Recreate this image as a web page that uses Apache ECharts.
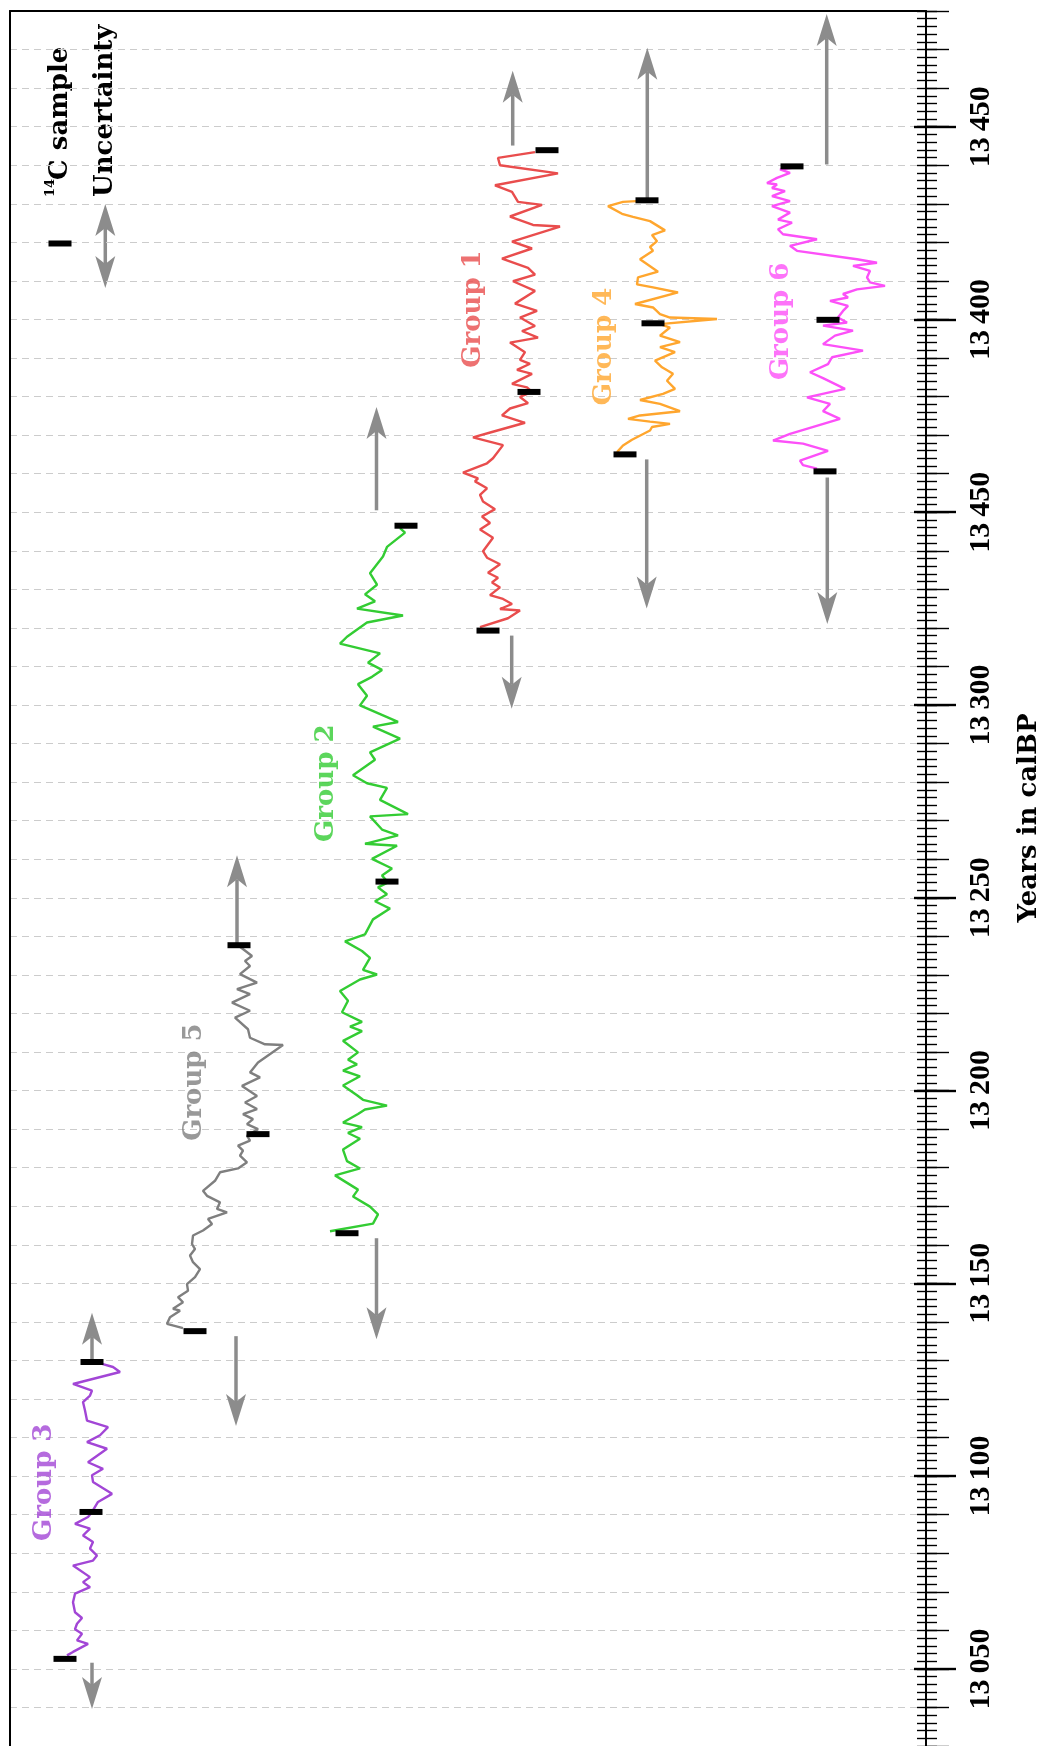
<!DOCTYPE html>
<html>
<head>
<meta charset="utf-8">
<script src="https://cdn.jsdelivr.net/npm/echarts@6/dist/echarts.min.js"></script>
<style>
  html, body { margin: 0; padding: 0; background: #fff; }
  #chart { width: 1045px; height: 1746px; }
</style>
</head>
<body>
<div id="chart"></div>
<script>
// Each group: [year calBP, horizontal offset of the trace]
const group1 = [
  [13320.2,480],[13322.5,508],[13324.5,520],[13324.9,500],[13326.2,512],[13327.5,503],[13328.5,490],
  [13330.5,500],[13331.8,492],[13333,498],[13334.3,488],[13336.5,500],[13338.2,487],[13339.9,483],
  [13343.4,493],[13345.5,480],[13347.2,490],[13348.9,482],[13350.8,495],[13352.8,483],[13354.5,480],
  [13356.2,487],[13358,475],[13358.8,478],[13360.3,463],[13362.7,487],[13364,493],[13367.4,503],
  [13369.4,473],[13370.8,492],[13373.2,525],[13375.1,502],[13376.9,510],[13378.3,528],[13379.9,520],
  [13381.2,532],[13382.4,527],[13383.3,512],[13385.9,532],[13386.9,517],[13388.5,530],[13389.5,520],
  [13391.5,525],[13394,510],[13395.3,538],[13397,522],[13398.3,535],[13400.5,520],[13402.2,537],
  [13404.1,515],[13407.4,535],[13409.9,513],[13411.6,535],[13413.4,528],[13415.8,502],[13418.4,532],
  [13420.2,512],[13424.1,560],[13424.5,533],[13426.7,510],[13429.7,542],[13430.5,518],[13433.1,512],
  [13434.8,495],[13437.9,558],[13440,500],[13441.9,498],[13443.4,535]
];
const group2 = [
  [13163.5,330],[13165.5,373],[13167.9,378],[13169.9,370],[13172.5,353],[13174.3,358],[13178,335],
  [13179.8,360],[13181.7,347],[13184.7,343],[13187.5,360],[13189,348],[13190.5,362],[13191.7,343],
  [13193.9,358],[13195.1,365],[13196.1,387],[13197.6,363],[13198.8,357],[13201.3,343],[13203.7,360],
  [13205.2,343],[13206.8,357],[13208,348],[13209.9,358],[13212.9,343],[13215.4,362],[13216.6,350],
  [13217.8,362],[13220.3,342],[13223.3,348],[13225.8,340],[13228.8,360],[13230.1,377],[13231.3,363],
  [13234.4,370],[13236.2,362],[13238.7,345],[13240.5,365],[13244.4,373],[13247.2,390],[13249.1,375],
  [13250.9,387],[13252.7,378],[13254,388],[13255.8,382],[13257.6,392],[13260.1,372],[13263.5,397],
  [13264,365],[13266.2,398],[13267.7,382],[13271.1,370],[13271.7,408],[13275.4,380],[13278.5,387],
  [13279.7,367],[13281.8,353],[13285.8,375],[13287.7,370],[13291.3,400],[13294.4,373],[13295.6,398],
  [13299.9,360],[13302.4,367],[13305.4,358],[13307.3,372],[13309.1,382],[13311,368],[13313.4,380],
  [13315.9,340],[13317.7,347],[13321.4,367],[13323.2,403],[13325,357],[13326.9,375],[13328.7,365],
  [13331.2,377],[13334.2,370],[13338.5,383],[13341,387],[13344.7,405],[13345.9,400]
];
const group3 = [
  [13053.5,67],[13054.4,73],[13056.5,88],[13057.4,77],[13059.1,82],[13060.3,75],[13061.7,77],
  [13063.2,82],[13064.7,75],[13067.3,73],[13069.5,75],[13071.2,90],[13072.5,83],[13073.8,90],
  [13076.8,73],[13078.1,93],[13079.4,97],[13081.2,90],[13082.9,93],[13084.6,83],[13086.4,90],
  [13087.6,75],[13089.4,88],[13090.7,92],[13093.3,98],[13095.4,112],[13098.5,93],[13100.2,92],
  [13101.9,103],[13103.6,88],[13107.1,107],[13108.8,87],[13110.6,100],[13112.7,108],[13114.4,87],
  [13117,85],[13119.2,83],[13120.9,90],[13122.2,92],[13123.9,73],[13127,120],[13128.3,113],[13129.1,102]
];
const group4 = [
  [13365.6,617],[13367.3,623],[13368.8,632],[13371.2,650],[13372.1,652],[13372.9,670],[13373.5,650],
  [13374.2,628],[13375.1,640],[13376.2,680],[13378.1,660],[13379.1,640],[13380.7,663],[13382,675],
  [13384.1,667],[13385.9,673],[13387.6,662],[13389.3,655],[13391.5,675],[13392.8,660],[13394.1,680],
  [13395.8,660],[13397.9,670],[13398.8,660],[13400.1,717],[13400.5,670],[13401.4,660],[13403.1,653],
  [13404,635],[13407,678],[13408.3,653],[13409.1,637],[13410.9,638],[13412.4,658],[13415.6,640],
  [13417.8,653],[13418.8,650],[13420.3,657],[13421.9,652],[13423.1,665],[13425.5,650],[13426.6,633],
  [13427.4,622],[13429.4,608],[13430.5,623],[13430.7,636]
];
const group5 = [
  [13138.4,183],[13139.5,167],[13141.2,170],[13142.9,180],[13143.4,173],[13145.1,183],[13146.4,178],
  [13148.1,188],[13149.8,187],[13151.6,195],[13153.7,200],[13155.5,193],[13157.2,190],[13158.9,195],
  [13160.2,192],[13162.4,193],[13163.7,203],[13165.4,212],[13166.7,208],[13168.4,227],[13169.3,217],
  [13171,220],[13172.7,207],[13174,203],[13176.6,215],[13178.8,220],[13179.8,238],[13181.4,247],
  [13183.1,240],[13184.4,243],[13185.7,238],[13187,250],[13188.3,247],[13190,258],[13191.3,247],
  [13192.6,253],[13193.9,243],[13195.2,257],[13196.9,245],[13198.6,257],[13201.2,242],[13203.4,260],
  [13204.7,250],[13207.3,258],[13211.8,283],[13212,265],[13213.7,250],[13215.9,248],[13218.9,235],
  [13220.7,250],[13222.8,232],[13225,250],[13226.3,237],[13228,257],[13230.2,240],[13232.3,250],
  [13233.6,245],[13234.9,252],[13237.3,240]
];
const group6 = [
  [13361.3,817],[13362.2,803],[13363.4,800],[13365.9,828],[13367.8,803],[13368.6,773],[13370.3,790],
  [13374.2,840],[13376.2,823],[13378.1,830],[13379.8,807],[13382,845],[13384.8,823],[13386.3,810],
  [13388.4,828],[13390.2,832],[13391.9,863],[13393.6,823],[13395.8,835],[13397.1,853],[13398.4,823],
  [13399.2,847],[13400.5,838],[13402.2,843],[13403.5,848],[13404.8,830],[13405.7,848],[13406.6,843],
  [13407.8,857],[13408.7,885],[13409.6,870],[13410.9,867],[13412.6,870],[13413.9,853],[13414.7,877],
  [13415.6,857],[13417.8,797],[13419.1,790],[13420.8,817],[13422.1,783],[13423.4,778],[13425.1,792],
  [13425.9,778],[13427.7,790],[13429.4,772],[13430.7,790],[13432,772],[13433.3,785],[13434.1,772],
  [13435,777],[13435.4,767],[13436.7,777],[13438,790],[13438.9,780],[13439.3,792]
];

// 14C sample positions: [offset, year]
const samples = [
  [65, 13052.6], [91, 13090.7], [92, 13129.6],
  [195, 13137.6], [258, 13188.7], [239, 13237.7],
  [347, 13163], [387, 13254.2], [406, 13346.5],
  [488, 13319.3], [529, 13381.2], [547, 13443.9],
  [625, 13365], [653, 13399], [647, 13430.9],
  [825, 13360.6], [828, 13399.9], [792, 13439.7]
];
// key entry for the sample marker
const sampleKey = [[60, 13419.7]];

// Uncertainty arrows: [offset, from year, to year]
const uncertainty = [
  [92, 13130, 13142.4], [92, 13051.6, 13039.6],
  [237, 13237.7, 13261], [236, 13136.3, 13113],
  [376.5, 13350.5, 13377.3], [376.5, 13161.7, 13135.5],
  [512.7, 13445.1, 13464.5], [511.7, 13318, 13299],
  [647.3, 13431, 13470.5], [646.7, 13363.7, 13325],
  [826.7, 13440.2, 13479.2], [827.3, 13359, 13321]
];

// Group names placed at [offset, year]
const groupNames = ['Group 1', 'Group 2', 'Group 3', 'Group 4', 'Group 5', 'Group 6'];
const groupColors = ['#e94d4d', '#33cc33', '#a246d6', '#ffa62e', '#7f7f7f', '#fc50f8'];
const groupLabelPos = [[473, 13402.7], [326, 13279.7], [44.5, 13098.4], [604.5, 13393], [194.5, 13202.2], [781, 13399.5]];
const groups = [group1, group2, group3, group4, group5, group6];

// Year axis ticks
const tickValues = [13050, 13100, 13150, 13200, 13250, 13300, 13350, 13400, 13450];
const tickLabels = ['13\u2009050', '13\u2009100', '13\u2009150', '13\u2009200', '13\u2009250', '13\u2009300', '13\u2009450', '13\u2009400', '13\u2009450'];

const YEAR_MIN = 13030, YEAR_MAX = 13480;
const ARROW = '#8c8c8c';
const SERIF = "'DejaVu Serif', serif";
const TICKFONT = "'Liberation Serif', serif";

function arrowShape(cx, p0y, tipY, dir) {
  const L = 32, N = 24, W = 10;
  const backY = tipY - dir * L, notchY = tipY - dir * N;
  return [
    { type: 'line', shape: { x1: cx, y1: p0y, x2: cx, y2: notchY }, style: { stroke: ARROW, lineWidth: 3.5 } },
    { type: 'polygon', shape: { points: [[cx, tipY], [cx + W, backY], [cx, notchY], [cx - W, backY]] }, style: { fill: ARROW, stroke: null } }
  ];
}

function renderArrow(params, api) {
  const x = api.value(0);
  const p0 = api.coord([x, api.value(1)]);
  const p1 = api.coord([x, api.value(2)]);
  const dir = p1[1] < p0[1] ? -1 : 1;
  return { type: 'group', children: arrowShape(p0[0], p0[1], p1[1], dir) };
}

const yBase = {
  type: 'value', min: YEAR_MIN, max: YEAR_MAX, position: 'right', offset: 0,
  axisLine: { show: false }, axisLabel: { show: false }, splitLine: { show: false },
  axisTick: { show: false }
};

const series = groups.map((g, i) => ({
  type: 'line',
  name: groupNames[i],
  data: g.map(d => [d[1], d[0]]),
  showSymbol: false,
  symbol: 'none',
  lineStyle: { color: groupColors[i], width: 2.4 },
  z: 3
}));

series.push({
  type: 'custom',
  name: 'Uncertainty',
  data: uncertainty,
  encode: { x: 0, y: [1, 2] },
  renderItem: renderArrow,
  z: 4
});

series.push({
  type: 'scatter',
  name: '14C sample',
  data: samples.concat(sampleKey),
  symbol: 'rect',
  symbolSize: [23, 6],
  itemStyle: { color: '#000', opacity: 1 },
  z: 5
});

series.push({
  type: 'scatter',
  name: 'labels',
  data: groupLabelPos.map((p, i) => ({
    value: p,
    label: { color: groupColors[i] }
  })),
  symbolSize: 0,
  label: {
    show: true, position: 'inside', rotate: 90,
    formatter: p => groupNames[p.dataIndex],
    fontFamily: SERIF, fontWeight: 'bold', fontSize: 26
  },
  z: 6
});

const legendGraphics = [
  ...arrowShape(105.3, 246, 204, -1),
  ...arrowShape(105.3, 246, 288, 1),
  { type: 'text', x: 51, y: 197, rotation: Math.PI / 2,
    style: { text: '14', font: "bold 13px 'DejaVu Serif', serif", fill: '#000', align: 'left', verticalAlign: 'middle' } },
  { type: 'text', x: 60, y: 180, rotation: Math.PI / 2,
    style: { text: 'C sample', font: "bold 26px 'DejaVu Serif', serif", fill: '#000', align: 'left', verticalAlign: 'middle' } },
  { type: 'text', x: 105, y: 197, rotation: Math.PI / 2,
    style: { text: 'Uncertainty', font: "bold 26px 'DejaVu Serif', serif", fill: '#000', align: 'left', verticalAlign: 'middle' } },
  { type: 'text', x: 1029, y: 818, rotation: Math.PI / 2,
    style: { text: 'Years in calBP', font: "bold 26px 'DejaVu Serif', serif", fill: '#000', align: 'center', verticalAlign: 'middle' } }
];

const chart = echarts.init(document.getElementById('chart'), null, { renderer: 'canvas' });
chart.setOption({
  animation: false,
  backgroundColor: '#fff',
  grid: { left: 10, right: 119, top: 11, bottom: 0, show: false },
  xAxis: [
    // top frame edge
    { type: 'value', min: 10, max: 926, position: 'top', z: 5,
      axisLine: { show: true, onZero: false, lineStyle: { color: '#000', width: 2 } },
      axisTick: { show: false }, axisLabel: { show: false }, splitLine: { show: false } }
  ],
  yAxis: [
    Object.assign({}, yBase, {
      interval: 10,
      axisLine: { show: true, lineStyle: { color: '#000', width: 2 } },
      axisTick: { show: true, length: 23, lineStyle: { color: '#000', width: 1.4 } },
      splitLine: { show: true, lineStyle: { color: '#cccccc', width: 1, type: [7, 5] } }
    }),
    Object.assign({}, yBase, {
      interval: 2,
      axisTick: { show: true, length: 11, lineStyle: { color: '#000', width: 1.4 } }
    }),
    Object.assign({}, yBase, {
      interval: 2,
      axisTick: { show: true, inside: true, length: 9, lineStyle: { color: '#000', width: 1.4 } }
    }),
    Object.assign({}, yBase, {
      axisTick: { show: true, length: 30, customValues: tickValues, lineStyle: { color: '#000', width: 2.4 } },
      axisLabel: {
        show: true, rotate: 90, margin: 40, customValues: tickValues,
        formatter: v => { const i = tickValues.indexOf(Math.round(v)); return i >= 0 ? tickLabels[i] : ''; },
        color: '#000', fontFamily: TICKFONT, fontWeight: 'bold', fontSize: 30
      }
    }),
    Object.assign({}, yBase, {
      axisTick: { show: true, inside: true, length: 12, customValues: tickValues, lineStyle: { color: '#000', width: 2.4 } }
    }),
    // left frame edge
    Object.assign({}, yBase, {
      position: 'left', z: 5,
      axisLine: { show: true, onZero: false, lineStyle: { color: '#000', width: 2 } }
    })
  ],
  series: series,
  graphic: legendGraphics
});
</script>
</body>
</html>
